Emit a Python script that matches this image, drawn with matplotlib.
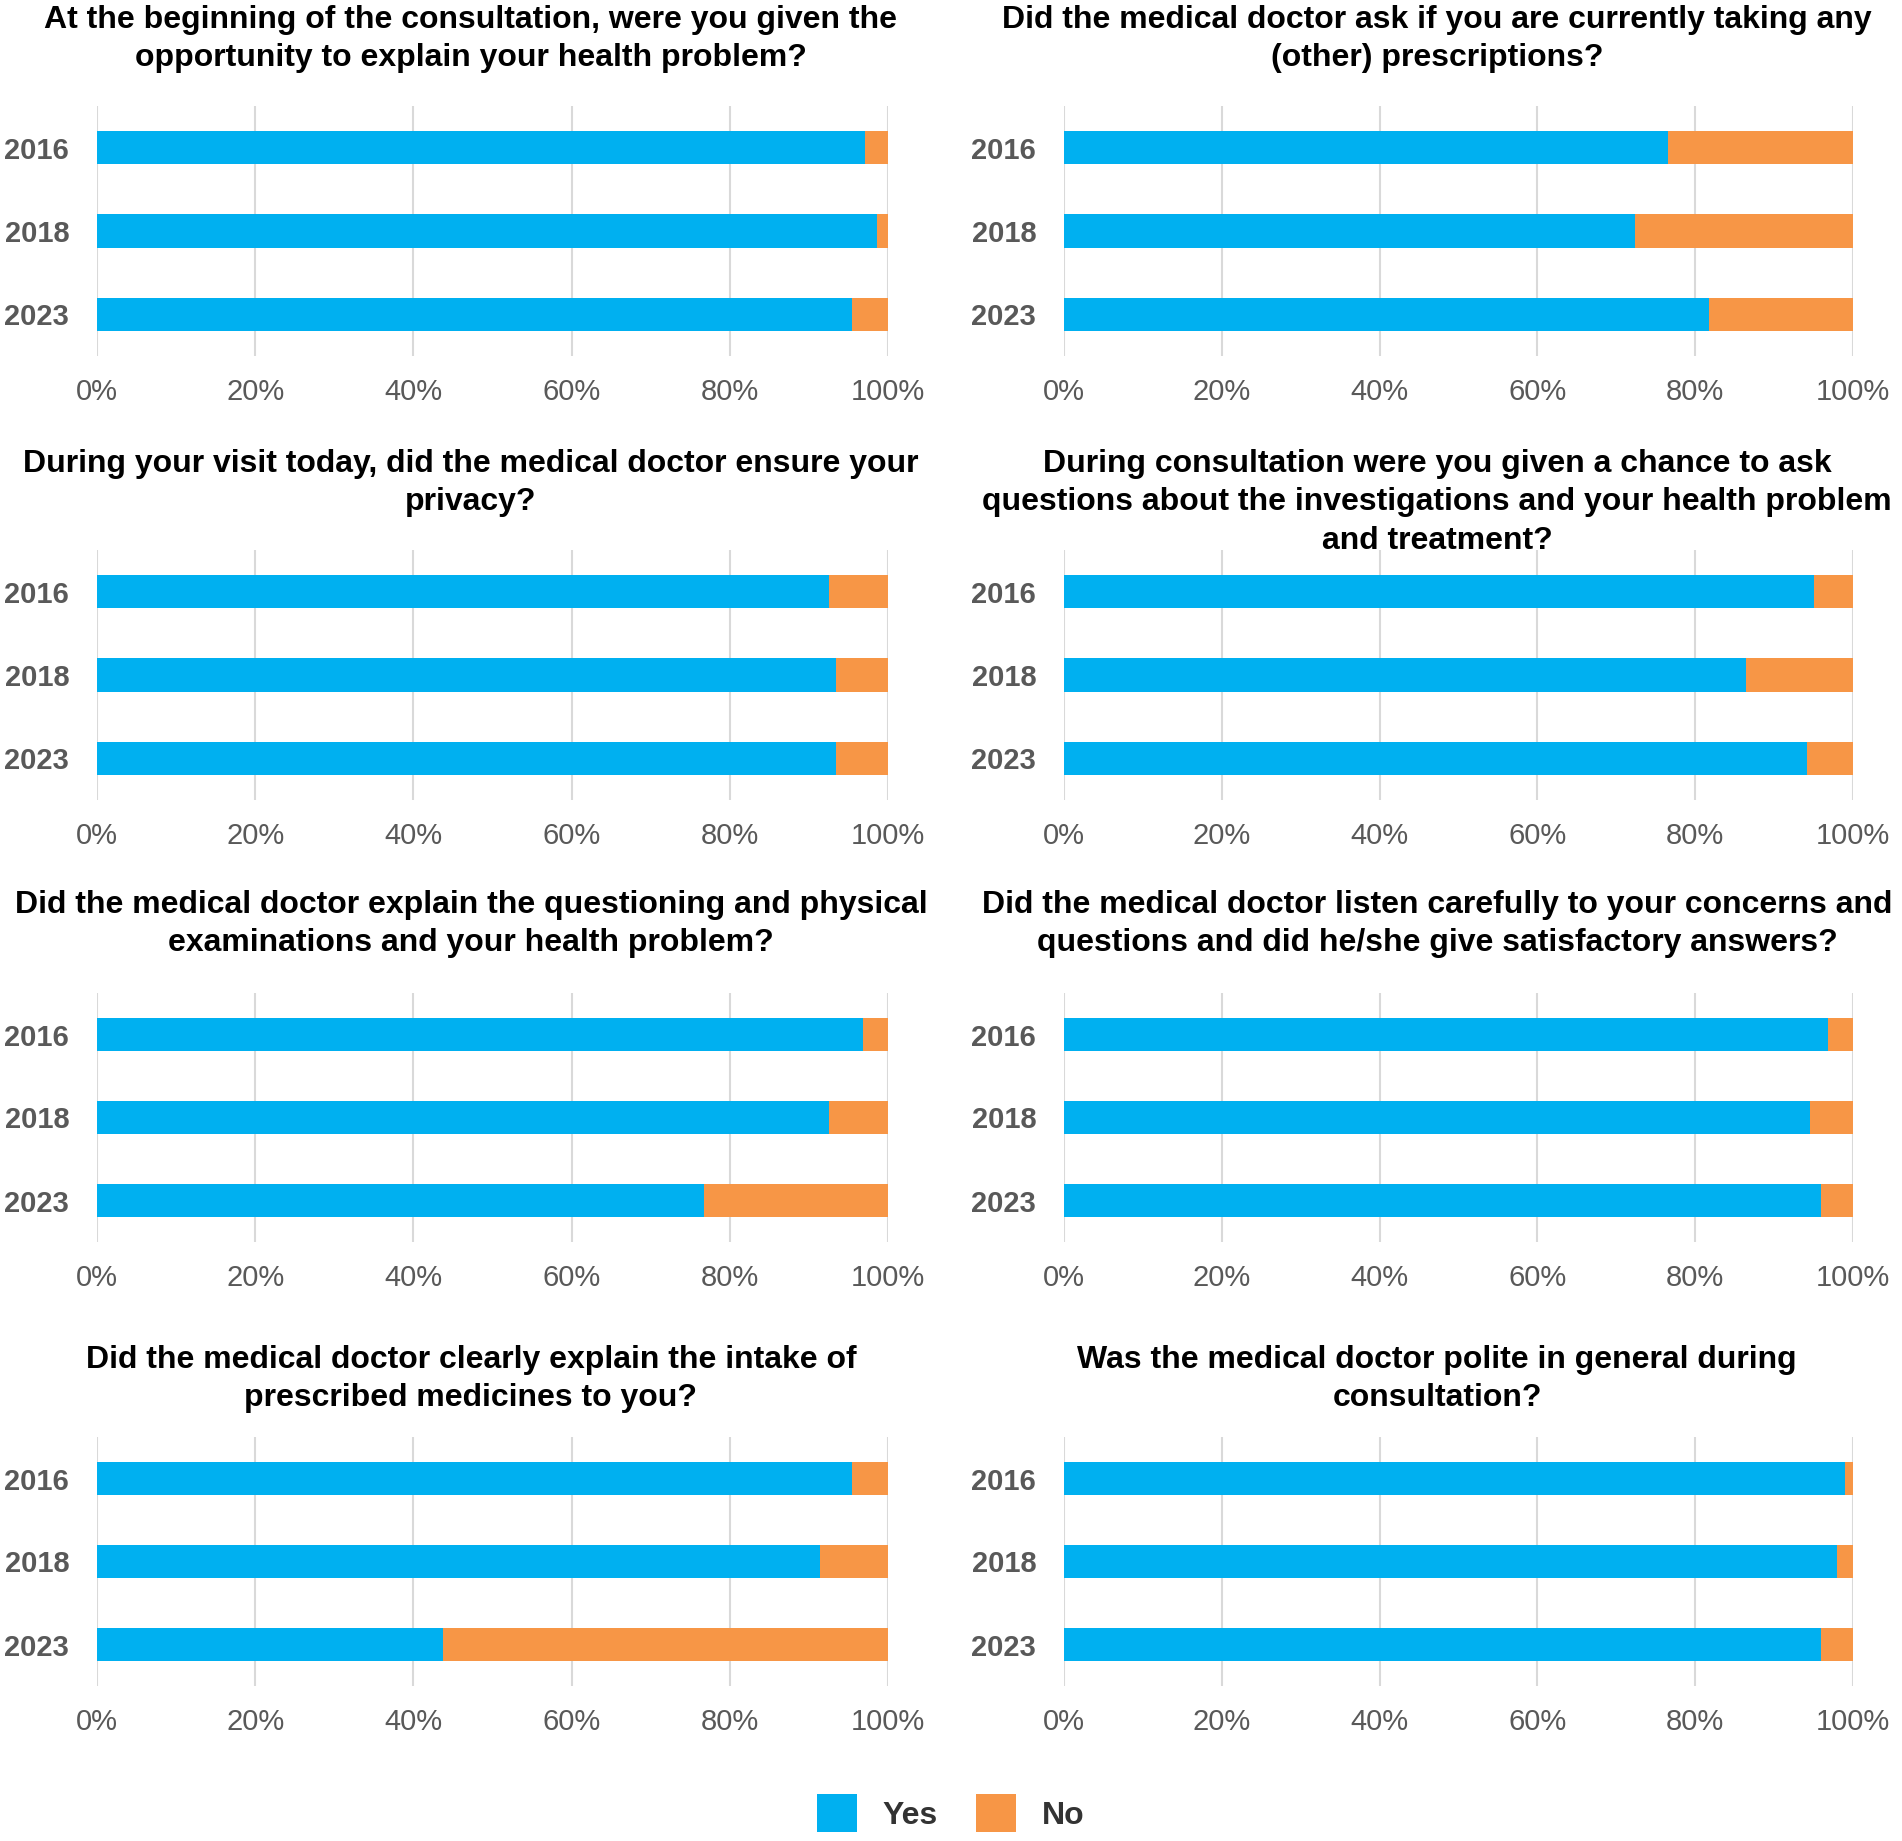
import numpy as np
import matplotlib
matplotlib.use('Agg')
import matplotlib.pyplot as plt
from matplotlib.patches import Patch

plt.rcParams['font.family'] = ['Liberation Sans', 'DejaVu Sans']

years = ['2016', '2018', '2023']

titles = [
    "At the beginning of the consultation, were you given the\nopportunity to explain your health problem?",
    "Did the medical doctor ask if you are currently taking any\n(other) prescriptions?",
    "During your visit today, did the medical doctor ensure your\nprivacy?",
    "During consultation were you given a chance to ask\nquestions about the investigations and your health problem\nand treatment?",
    "Did the medical doctor explain the questioning and physical\nexaminations and your health problem?",
    "Did the medical doctor listen carefully to your concerns and\nquestions and did he/she give satisfactory answers?",
    "Did the medical doctor clearly explain the intake of\nprescribed medicines to you?",
    "Was the medical doctor polite in general during\nconsultation?",
]

# share of "Yes" answers in percent, order 2016, 2018, 2023
yes_q1 = [97.1, 98.6, 95.5]
yes_q2 = [76.5, 72.4, 81.7]
yes_q3 = [92.6, 93.4, 93.4]
yes_q4 = [95.1, 86.5, 94.2]
yes_q5 = [96.9, 92.5, 76.7]
yes_q6 = [96.8, 94.5, 96.0]
yes_q7 = [95.5, 91.4, 43.8]
yes_q8 = [99.0, 98.0, 95.9]
yes_all = [yes_q1, yes_q2, yes_q3, yes_q4, yes_q5, yes_q6, yes_q7, yes_q8]

c_yes = '#00B0F0'
c_no = '#F79646'
c_txt = '#595959'

W, H = 1902, 1841
fig = plt.figure(figsize=(W / 100, H / 100), dpi=100)

# axes boxes in pixels: (top, bottom) for each row, (left, right) for each column
rows = [(106, 356), (550, 800), (993, 1242), (1437, 1686)]
title_top = [5, 449, 890, 1345]
cols = [(97, 888), (1064, 1853)]
title_x = [471, 1437]

for i, (yes, title) in enumerate(zip(yes_all, titles)):
    r, c = divmod(i, 2)
    top, bot = rows[r]
    left, right = cols[c]
    ax = fig.add_axes([left / W, 1 - bot / H, (right - left) / W, (bot - top) / H])
    y = np.arange(len(years))
    yes = np.array(yes)
    no = 100 - yes
    ax.barh(y, yes, height=0.4, color=c_yes, zorder=3)
    ax.barh(y, no, left=yes, height=0.4, color=c_no, zorder=3)
    ax.set_xlim(0, 100)
    ax.set_ylim(2.5, -0.5)
    ax.set_yticks(y)
    ax.set_yticklabels(years, fontsize=21, fontweight='bold', color=c_txt)
    ax.set_xticks(np.arange(0, 101, 20))
    ax.set_xticklabels([f'{v}%' for v in range(0, 101, 20)], fontsize=21, color=c_txt)
    ax.tick_params(axis='both', length=0)
    ax.tick_params(axis='x', pad=16)
    ax.tick_params(axis='y', pad=20)
    ax.grid(axis='x', color='#d9d9d9', linewidth=1.5, zorder=0)
    for s in ax.spines.values():
        s.set_visible(False)
    fig.text(title_x[c] / W, 1 - title_top[r] / H, title, ha='center', va='top',
             fontsize=23, fontweight='bold', color='black', linespacing=1.36)

handles = [Patch(facecolor=c_yes, label='Yes'), Patch(facecolor=c_no, label='No')]
leg = fig.legend(handles=handles, loc='center', bbox_to_anchor=(0.5, 1 - 1813 / H),
                 ncol=2, frameon=False, handlelength=1.25, handleheight=1.5,
                 columnspacing=1.2, handletextpad=0.8,
                 prop={'size': 23, 'weight': 'bold'})
for t in leg.get_texts():
    t.set_color('#333333')

fig.savefig('out.png', dpi=100, facecolor='white')
